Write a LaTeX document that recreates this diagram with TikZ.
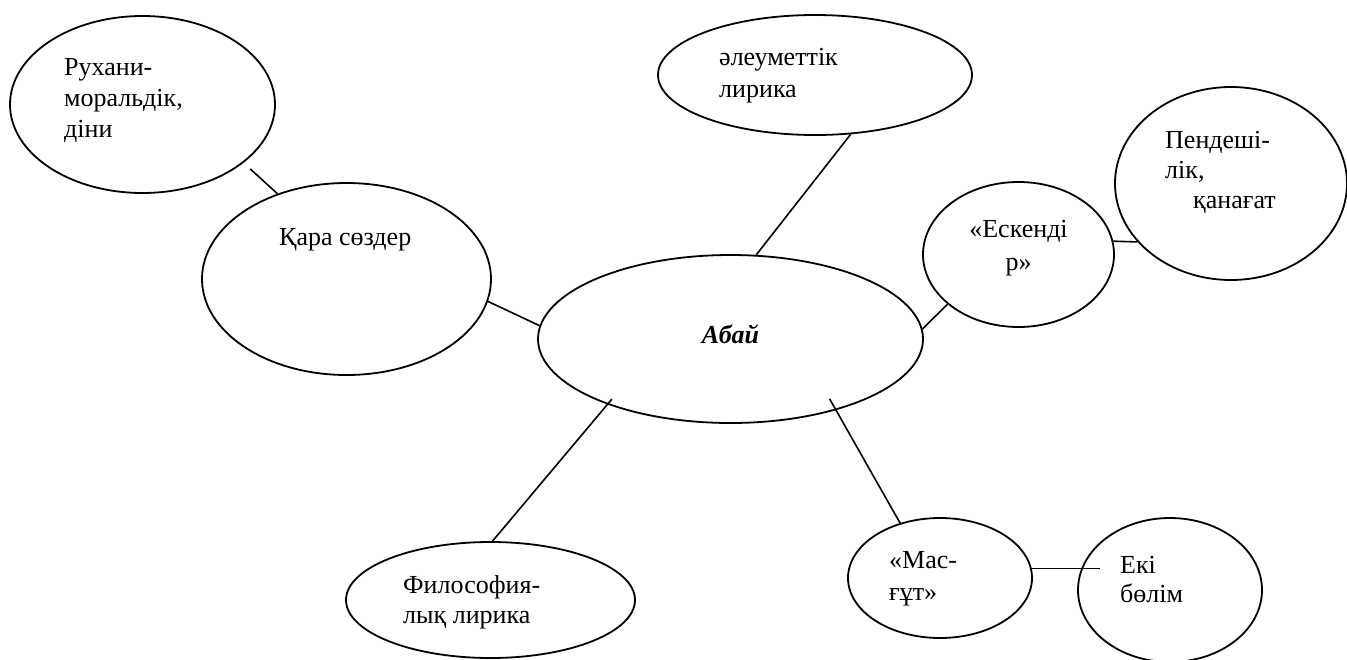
\documentclass[tikz,border=0pt]{standalone}
\usepackage{fontspec}
\setmainfont{Liberation Serif}
\usetikzlibrary{shapes.geometric}
\tikzset{
  bubble/.style={draw, shape=ellipse, inner sep=0pt, line width=1.8pt},
  link/.style={line width=1.6pt},
  lbl/.style={inner sep=0pt, anchor=base west, align=left, font=\fontsize{26}{31}\selectfont},
}
\begin{document}
\begin{tikzpicture}[x=1pt,y=-1pt]
\useasboundingbox (0,0) rectangle (1347,659);
% ellipses
\node[bubble, minimum width=265pt, minimum height=177pt] (ruh) at (142.5,104.5) {};
\node[bubble, minimum width=289pt, minimum height=192pt] (kara) at (346.5,279) {};
\node[bubble, minimum width=314pt, minimum height=120pt] (ale) at (815,75) {};
\node[bubble, minimum width=385pt, minimum height=168pt] (abai) at (730.5,339) {};
\node[bubble, minimum width=191pt, minimum height=145pt] (esk) at (1018.5,254.5) {};
\node[bubble, minimum width=232pt, minimum height=193pt] (pen) at (1231,183.5) {};
\node[bubble, minimum width=289pt, minimum height=116pt] (fil) at (490.5,600) {};
\node[bubble, minimum width=184pt, minimum height=120pt] (mas) at (940,578) {};
\node[bubble, minimum width=184pt, minimum height=144pt] (eki) at (1170,590) {};
% texts (anchor = baseline of the last line)
\node[lbl] (truh) at (64,137) {Рухани-\\моральдік,\\діни};
\node[lbl] (tkara) at (279,245) {Қара сөздер};
\node[lbl, font=\fontsize{26}{32}\selectfont] (tale) at (719,97) {әлеуметтік\\лирика};
\node[lbl, anchor=base, align=center, font=\fontsize{26}{31}\selectfont\bfseries\itshape] (tabai) at (730.5,343) {Абай};
\node[lbl, anchor=base, align=center, font=\fontsize{26}{33}\selectfont] (tesk) at (1018.5,270) {«Ескенді\\р»};
\node[lbl, font=\fontsize{26}{30}\selectfont] (tpen) at (1165,208) {Пендеші-\\лік,\\\hspace*{28pt}қанағат};
\node[lbl, font=\fontsize{26}{30}\selectfont] (tfil) at (403,623) {Философия-\\лық лирика};
\node[lbl, font=\fontsize{26}{32}\selectfont] (tmas) at (889,600) {«Мас-\\ғұт»};
\node[lbl, font=\fontsize{26}{29}\selectfont] (teki) at (1120,602) {Екі\\бөлім};
% connectors
\draw[link, shorten <=9pt] (ruh.-30.6) -- (kara.129.8);
\draw[link] (kara.-9.4) -- (abai.176.4);
\draw[link] (ale.-59) -- (abai.73.7);
\draw[link] (abai.3.6) -- (esk.-145.3);
\draw[link] (esk.8) -- (pen.-148.3);
\draw[link, shorten <=-7pt] (abai.-152.6) -- (fil.88.5);
\draw[link, shorten <=-13pt] (abai.-34.9) -- (mas.126.9);
\draw[link, shorten >=-18pt] (mas.6.8) -- (mas.6.8 -| eki.165.2);
\end{tikzpicture}
\end{document}
